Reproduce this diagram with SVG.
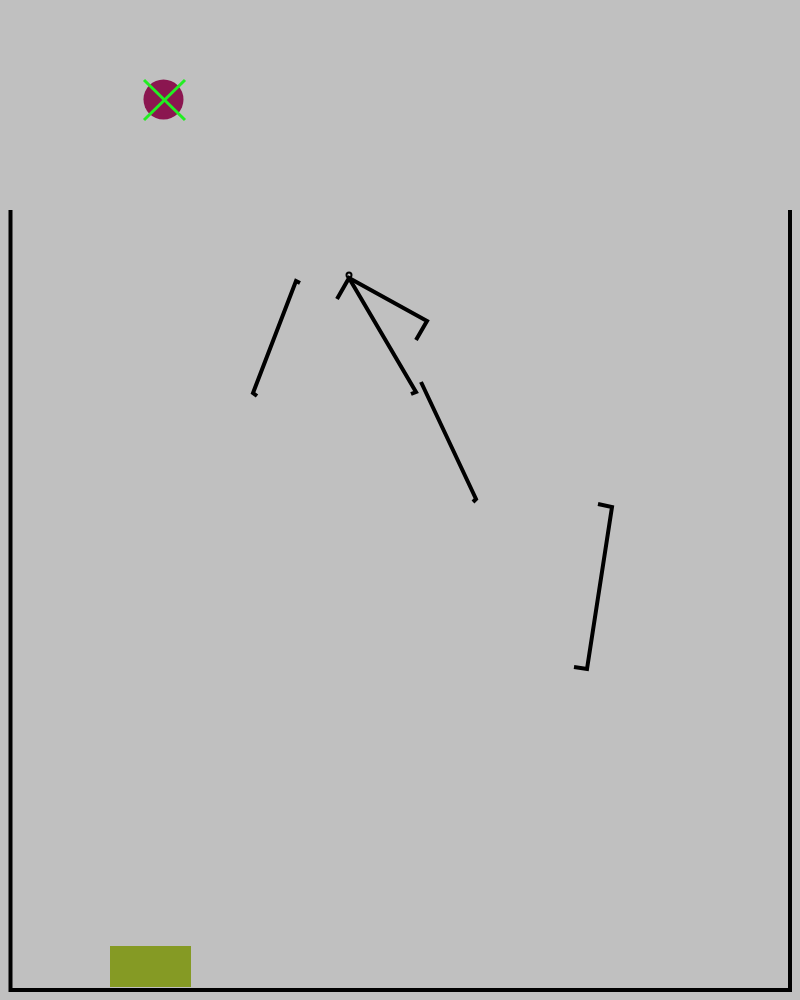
<svg xmlns="http://www.w3.org/2000/svg" width="800" height="1000" viewBox="0 0 800 1000">
<style>
.w{fill:none;stroke:#000;stroke-width:4;stroke-linejoin:miter;stroke-linecap:butt}
.x{stroke:#22ee22;stroke-width:3}
</style>
<rect width="800" height="1000" fill="#c0c0c0"/>
<g id="container">
<polyline class="w" points="10.5,210 10.5,990 790,990 790,210"/>
</g>
<g id="goal">
<rect x="110" y="946" width="81" height="41" fill="#859a24"/>
</g>
<g id="ball">
<circle cx="163.5" cy="99.5" r="20" fill="#8b1650"/>
<line class="x" x1="144" y1="80" x2="185" y2="120"/>
<line class="x" x1="185" y1="80" x2="144" y2="120"/>
</g>
<g id="segments">
<polyline class="w" points="300,283 296,281 253,393 257,396"/>
<polyline class="w" points="337,299 349,278 427,321 416,340"/>
<polyline class="w" points="349,278 416,392 411,394"/>
<circle cx="349" cy="275" r="2.5" fill="none" stroke="#000" stroke-width="2"/>
<polyline class="w" points="421,382 476,499 473,502"/>
<polyline class="w" points="598,504 612,507 587,669 574,667"/>
</g>
</svg>
